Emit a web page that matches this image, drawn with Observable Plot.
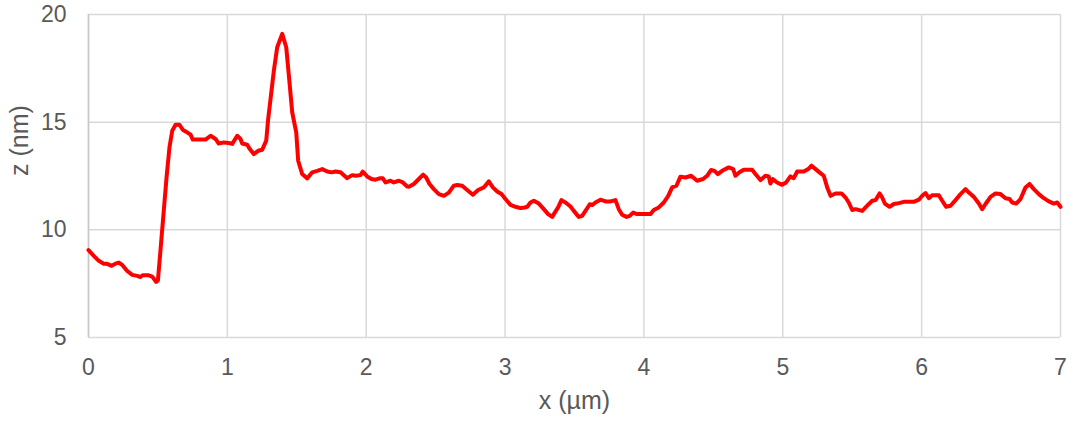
<!DOCTYPE html>
<html>
<head>
<meta charset="utf-8">
<script src="https://cdn.jsdelivr.net/npm/d3@7"></script>
<script src="https://cdn.jsdelivr.net/npm/@observablehq/plot@0.6"></script>
<style>
  html, body { margin: 0; padding: 0; background: #ffffff; }
  #chart { width: 1076px; height: 426px; }
</style>
</head>
<body>
<div id="chart"></div>
<script>
// Height profile along the scan line: lateral position (µm) and height (nm)
const xPos = [
  0.000, 0.038, 0.074, 0.110, 0.130, 0.166, 0.194, 0.218, 0.243, 0.279,
  0.315, 0.350, 0.374, 0.390, 0.434, 0.459, 0.487, 0.500, 0.518, 0.542,
  0.562, 0.583, 0.603, 0.627, 0.655, 0.680, 0.710, 0.735, 0.751, 0.795,
  0.843, 0.879, 0.915, 0.938, 0.975, 1.010, 1.035, 1.071, 1.095, 1.107,
  1.143, 1.162, 1.190, 1.222, 1.251, 1.280, 1.294, 1.311, 1.335, 1.359,
  1.395, 1.424, 1.443, 1.467, 1.496, 1.510, 1.539, 1.575, 1.611, 1.647,
  1.683, 1.719, 1.750, 1.779, 1.815, 1.863, 1.899, 1.923, 1.959, 1.975,
  2.007, 2.038, 2.067, 2.096, 2.120, 2.139, 2.175, 2.199, 2.235, 2.264,
  2.295, 2.307, 2.343, 2.379, 2.410, 2.432, 2.456, 2.487, 2.523, 2.559,
  2.595, 2.631, 2.655, 2.691, 2.727, 2.768, 2.806, 2.847, 2.883, 2.912,
  2.943, 2.974, 3.003, 3.039, 3.075, 3.111, 3.142, 3.160, 3.183, 3.207,
  3.243, 3.279, 3.310, 3.339, 3.358, 3.382, 3.406, 3.435, 3.471, 3.495,
  3.531, 3.555, 3.579, 3.610, 3.627, 3.651, 3.687, 3.723, 3.759, 3.795,
  3.819, 3.843, 3.874, 3.898, 3.922, 3.951, 3.999, 4.047, 4.071, 4.107,
  4.143, 4.175, 4.203, 4.234, 4.263, 4.299, 4.340, 4.383, 4.426, 4.455,
  4.484, 4.508, 4.532, 4.563, 4.611, 4.643, 4.659, 4.688, 4.719, 4.779,
  4.803, 4.839, 4.875, 4.899, 4.911, 4.928, 4.959, 4.995, 5.024, 5.055,
  5.079, 5.104, 5.152, 5.183, 5.207, 5.236, 5.264, 5.295, 5.320, 5.344,
  5.380, 5.423, 5.452, 5.475, 5.500, 5.524, 5.572, 5.608, 5.644, 5.668,
  5.697, 5.716, 5.735, 5.769, 5.800, 5.836, 5.871, 5.943, 5.980, 6.004,
  6.028, 6.052, 6.076, 6.124, 6.148, 6.177, 6.208, 6.244, 6.280, 6.316,
  6.340, 6.376, 6.412, 6.436, 6.460, 6.496, 6.532, 6.568, 6.604, 6.633,
  6.652, 6.681, 6.712, 6.748, 6.777, 6.808, 6.844, 6.880, 6.916, 6.952,
  6.976, 7.000
];
const zHeight = [
  9.06, 8.79, 8.56, 8.43, 8.43, 8.33, 8.43, 8.48, 8.37, 8.09,
  7.91, 7.86, 7.81, 7.89, 7.89, 7.83, 7.58, 7.66, 9.02, 10.88,
  12.43, 13.83, 14.60, 14.88, 14.88, 14.64, 14.53, 14.42, 14.19, 14.19,
  14.19, 14.37, 14.22, 14.01, 14.06, 14.03, 13.99, 14.37, 14.22, 14.01,
  13.95, 13.75, 13.52, 13.67, 13.72, 14.14, 15.15, 16.08, 17.40, 18.48,
  19.10, 18.48, 17.16, 15.46, 14.53, 13.21, 12.59, 12.39, 12.67, 12.74,
  12.82, 12.71, 12.67, 12.71, 12.67, 12.40, 12.54, 12.51, 12.54, 12.70,
  12.48, 12.36, 12.33, 12.39, 12.39, 12.20, 12.28, 12.20, 12.28, 12.20,
  12.01, 12.00, 12.13, 12.36, 12.56, 12.43, 12.13, 11.89, 11.66, 11.58,
  11.73, 12.05, 12.08, 12.05, 11.85, 11.63, 11.85, 11.97, 12.25, 11.97,
  11.78, 11.66, 11.43, 11.16, 11.07, 11.01, 11.04, 11.07, 11.27, 11.35,
  11.22, 10.96, 10.73, 10.60, 10.80, 11.04, 11.38, 11.27, 11.08, 10.88,
  10.60, 10.65, 10.88, 11.19, 11.15, 11.27, 11.40, 11.32, 11.32, 11.38,
  10.96, 10.70, 10.60, 10.65, 10.80, 10.73, 10.73, 10.73, 10.92, 11.04,
  11.27, 11.58, 11.97, 12.05, 12.47, 12.43, 12.51, 12.28, 12.36, 12.51,
  12.78, 12.74, 12.59, 12.74, 12.90, 12.82, 12.51, 12.67, 12.79, 12.79,
  12.59, 12.31, 12.51, 12.48, 12.15, 12.36, 12.20, 12.09, 12.20, 12.48,
  12.40, 12.71, 12.71, 12.82, 12.98, 12.82, 12.67, 12.51, 11.97, 11.58,
  11.69, 11.69, 11.50, 11.27, 10.92, 10.96, 10.88, 11.12, 11.35, 11.38,
  11.69, 11.50, 11.22, 11.07, 11.20, 11.24, 11.30, 11.30, 11.40, 11.58,
  11.71, 11.47, 11.61, 11.61, 11.35, 11.07, 11.12, 11.38, 11.66, 11.89,
  11.73, 11.53, 11.22, 10.96, 11.20, 11.53, 11.69, 11.66, 11.47, 11.43,
  11.27, 11.22, 11.43, 11.97, 12.13, 11.89, 11.66, 11.47, 11.32, 11.22,
  11.27, 11.07
];

const xTicks = [0, 1, 2, 3, 4, 5, 6, 7];
const yTicks = [5, 10, 15, 20];
const xTitle = "x (µm)";
const yTitle = "z (nm)";

const profile = xPos.map((x, i) => ({x, z: zHeight[i]}));

const chart = Plot.plot({
  width: 1076,
  height: 426,
  marginLeft: 88,
  marginRight: 16,
  marginTop: 14,
  marginBottom: 89,
  style: {
    fontFamily: "'Liberation Sans', Arial, sans-serif",
    fontSize: "23px",
    color: "#595959",
    background: "#ffffff"
  },
  x: {domain: [0, 7]},
  y: {domain: [5, 20]},
  marks: [
    Plot.ruleY(yTicks, {stroke: "#d9d9d9", strokeWidth: 1.5}),
    Plot.ruleX(xTicks, {stroke: "#d9d9d9", strokeWidth: 1.5}),
    Plot.ruleX([0], {stroke: "#c8c8c8", strokeWidth: 1.5}),
    Plot.axisX(xTicks, {
      tickSize: 0, tickPadding: 21, label: null, fill: "#595959",
      fontSize: 23, tickFormat: d => String(d)
    }),
    Plot.axisY(yTicks, {
      tickSize: 0, tickPadding: 22, label: null, fill: "#595959",
      fontSize: 23, tickFormat: d => String(d)
    }),
    Plot.line(profile, {
      x: "x", y: "z",
      stroke: "#ff0000", strokeWidth: 4,
      strokeLinejoin: "round", strokeLinecap: "round"
    }),
    Plot.text([xTitle], {
      frameAnchor: "bottom", dy: 71, fill: "#595959", fontSize: 25
    }),
    Plot.text([yTitle], {
      frameAnchor: "left", dx: -69, rotate: -90, fill: "#595959", fontSize: 25
    })
  ]
});

document.getElementById("chart").appendChild(chart);
</script>
</body>
</html>
